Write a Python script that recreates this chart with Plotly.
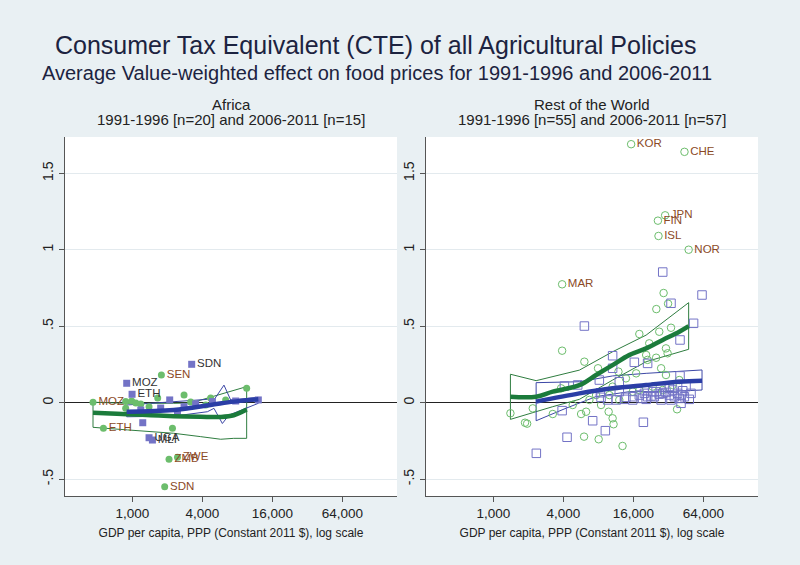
import plotly.graph_objects as go

# ---------------- Africa ----------------
af_91_gdp = [1775, 458, 563, 2440, 2065, 1895, 875, 875, 1390, 2780, 2210, 9610, 985, 1180, 1650, 3170, 4270, 6340, 1070, 4710]
af_91_cte = [0.181, 0.003, -0.167, -0.357, -0.370, -0.549, 0.007, -0.037, -0.026, 0.05, -0.167, 0.094, 0.011, -0.008, 0.031, 0.005, -0.015, 0.018, -0.002, 0.031]
af_91_lab = ["SEN", "MOZ", "ETH", "ZWE", "ZMB", "SDN", "", "", "", "", "", "", "", "", "", "", "", "", "", ""]

af_06_gdp = [3235, 893, 993, 2093, 4875, 12110, 2780, 2440, 1227, 1390, 1486, 1750, 3500, 7730, 1180]
af_06_cte = [0.251, 0.127, 0.055, 0.018, 0.007, 0.018, -0.026, -0.059, -0.131, -0.229, -0.244, -0.035, -0.008, 0.011, -0.048]
af_06_lab = ["SDN", "MOZ", "ETH", "", "", "", "", "", "", "UGA", "MLI", "", "", "", ""]

af_91_fit_x = [458, 650, 906, 1437, 2265, 3870, 5750, 7440, 9610]
af_91_fit_y = [-0.065, -0.071, -0.075, -0.082, -0.088, -0.092, -0.093, -0.082, -0.045]
af_91_up_x = [458, 906, 2265, 3170, 9610]
af_91_up_y = [0.003, -0.004, -0.004, -0.002, 0.105]
af_91_lo_x = [458, 906, 2265, 3870, 5750, 7440, 9610]
af_91_lo_y = [-0.161, -0.178, -0.200, -0.222, -0.239, -0.233, -0.233]

af_06_fit_x = [893, 2265, 4700, 7440, 12110]
af_06_fit_y = [-0.059, -0.048, -0.015, 0.007, 0.022]
af_06_up_x = [893, 2265, 4415, 5030, 6130, 7000, 12110]
af_06_up_y = [-0.015, 0.007, 0.022, 0.018, 0.115, 0.018, 0.035]
af_06_lo_x = [893, 2265, 4415, 5030, 5940, 6770, 12110]
af_06_lo_y = [-0.092, -0.088, -0.059, -0.037, -0.136, -0.081, -0.004]

# ---------------- Rest of the World ----------------
rw_91_gdp = [15300, 44000, 30000, 26000, 26300, 47800, 3900, 29100, 31800, 25200, 26700, 33700, 18000, 30500, 31500,
             25100, 20600, 21200, 13800, 30500, 11900, 7940, 6060, 3900, 3820, 2180, 1400, 1870, 1950, 3240,
             5680, 6270, 8430, 9800, 10600, 10800, 6020, 8040, 12900, 38000, 7640, 10600, 16900, 12100, 18000,
             23400, 34800, 39700, 15800, 28600, 9940, 6690, 4810, 21900, 27700]
rw_91_cte = [1.69, 1.64, 1.225, 1.19, 1.09, 1.00, 0.774, 0.717, 0.647, 0.612, 0.464, 0.49, 0.449, 0.355, 0.323,
             0.294, 0.312, 0.28, 0.159, 0.181, 0.203, 0.225, 0.268, 0.34, 0.094, -0.037, -0.069, -0.131, -0.137, -0.074,
             -0.074, -0.059, -0.015, -0.059, -0.102, -0.141, -0.222, -0.239, -0.283, -0.043, 0.05, 0.105, 0.192, 0.018, 0.083,
             0.105, 0.116, 0.148, 0.072, 0.083, 0.05, 0.018, -0.015, 0.388, 0.225]
rw_91_lab = ["KOR", "CHE", "JPN", "FIN", "ISL", "NOR", "MAR"] + [""] * 48

rw_06_gdp = [28600, 62300, 52700, 33700, 6060, 10600, 16300, 21200, 10600, 40300, 40300, 8150, 12100, 4080, 5310,
             3900, 7140, 9180, 19500, 4300, 2340, 8320, 9610, 13800, 15800, 18000, 19900, 21200, 22700, 24200,
             26700, 28600, 30500, 32600, 34800, 36000, 38400, 39700, 41100, 42500, 43900, 45400, 48400, 33700, 27700,
             20600, 15800, 13400, 41100, 11400, 8430, 12100, 25100, 32600, 23400, 19200, 50100]
rw_06_cte = [0.854, 0.704, 0.519, 0.65, 0.501, 0.307, 0.264, 0.257, 0.225, 0.41, 0.175, 0.148, 0.137, 0.109, 0.116,
             -0.052, -0.118, -0.183, -0.128, -0.226, -0.331, 0.065, 0.018, 0.035, 0.039, 0.05, 0.061, 0.039, 0.044, 0.039,
             0.056, 0.061, 0.067, 0.05, 0.083, 0.039, 0.061, 0.028, 0.05, 0.078, 0.039, 0.105, 0.022, 0.018, 0.018,
             0.022, 0.018, 0.022, -0.004, 0.018, 0.035, 0.072, 0.072, 0.094, 0.072, 0.028, 0.061]

rw_91_fit_x = [1400, 2330, 3240, 5490, 7640, 10600, 14700, 20600, 28600, 39700, 47800]
rw_91_fit_y = [0.039, 0.039, 0.072, 0.115, 0.181, 0.246, 0.311, 0.355, 0.41, 0.464, 0.501]
rw_91_up_x = [1400, 2330, 5490, 10600, 20600, 47800]
rw_91_up_y = [0.186, 0.144, 0.213, 0.333, 0.442, 0.654]
rw_91_lo_x = [1400, 2330, 3240, 5490, 10600, 20600, 47800]
rw_91_lo_y = [-0.109, -0.059, -0.026, 0.022, 0.148, 0.268, 0.349]

rw_06_fit_x = [2330, 5490, 10600, 20600, 39700, 62300]
rw_06_fit_y = [0.007, 0.061, 0.094, 0.116, 0.137, 0.144]
rw_06_up_x = [2330, 5490, 10600, 20600, 62300]
rw_06_up_y = [0.131, 0.137, 0.175, 0.192, 0.214]
rw_06_lo_x = [2330, 4220, 7640, 14700, 28600, 62300]
rw_06_lo_y = [-0.118, -0.036, 0.04, 0.072, 0.072, 0.083]

x_tickvals = [1000, 4000, 16000, 64000]
x_ticktext = ["1,000", "4,000", "16,000", "64,000"]
y_tickvals = [-0.5, 0, 0.5, 1, 1.5]
y_ticktext = ["-.5", "0", ".5", "1", "1.5"]

title = "Consumer Tax Equivalent (CTE) of all Agricultural Policies"
subtitle = "Average Value-weighted effect on food prices for 1991-1996 and 2006-2011"
panel_titles = ["Africa", "Rest of the World"]
panel_sub = ["1991-1996 [n=20] and 2006-2011 [n=15]", "1991-1996 [n=55] and 2006-2011 [n=57]"]
x_title = "GDP per capita, PPP (Constant 2011 $), log scale"

# ---------------- styles ----------------
FONT = "Liberation Sans, Arial, sans-serif"
BG = "#e9f0f3"
GREEN_M = "#6cbd6c"
BLUE_M = "#7373c6"
GREEN_L = "#1b7b3b"
BLUE_L = "#2b3ea6"
GREEN_CI = "#2f7d40"
BLUE_CI = "#3c47a6"
BROWN = "#8b4a26"
DARK = "#333333"

fig = go.Figure()

def band(xu, yu, xl, yl, color, xa, ya):
    xs = list(xu) + list(reversed(xl)) + [xu[0]]
    ys = list(yu) + list(reversed(yl)) + [yu[0]]
    fig.add_trace(go.Scatter(x=xs, y=ys, mode="lines", line=dict(color=color, width=1),
                             xaxis=xa, yaxis=ya, hoverinfo="skip", showlegend=False))

def fit(x, y, color, xa, ya):
    fig.add_trace(go.Scatter(x=x, y=y, mode="lines", line=dict(color=color, width=4.5, shape="spline"),
                             xaxis=xa, yaxis=ya, showlegend=False))

# Africa panel
band(af_91_up_x, af_91_up_y, af_91_lo_x, af_91_lo_y, GREEN_CI, "x", "y")
band(af_06_up_x, af_06_up_y, af_06_lo_x, af_06_lo_y, BLUE_CI, "x", "y")
fig.add_trace(go.Scatter(x=af_91_gdp, y=af_91_cte, text=af_91_lab, mode="markers+text",
                         textposition="middle right", textfont=dict(color=BROWN, size=11.5, family=FONT),
                         marker=dict(symbol="circle", size=7, color=GREEN_M), xaxis="x", yaxis="y", showlegend=False))
fig.add_trace(go.Scatter(x=af_06_gdp, y=af_06_cte, text=af_06_lab, mode="markers+text",
                         textposition="middle right", textfont=dict(color=DARK, size=11.5, family=FONT),
                         marker=dict(symbol="square", size=7, color=BLUE_M), xaxis="x", yaxis="y", showlegend=False))
fit(af_91_fit_x, af_91_fit_y, GREEN_L, "x", "y")
fit(af_06_fit_x, af_06_fit_y, BLUE_L, "x", "y")

# RoW panel
band(rw_91_up_x, rw_91_up_y, rw_91_lo_x, rw_91_lo_y, GREEN_CI, "x2", "y2")
band(rw_06_up_x, rw_06_up_y, rw_06_lo_x, rw_06_lo_y, BLUE_CI, "x2", "y2")
fig.add_trace(go.Scatter(x=rw_91_gdp, y=rw_91_cte, text=rw_91_lab, mode="markers+text",
                         textposition="middle right", textfont=dict(color=BROWN, size=11.5, family=FONT),
                         marker=dict(symbol="circle-open", size=7.5, color=GREEN_M, line=dict(width=1)),
                         xaxis="x2", yaxis="y2", showlegend=False))
fig.add_trace(go.Scatter(x=rw_06_gdp, y=rw_06_cte, mode="markers",
                         marker=dict(symbol="square-open", size=8.5, color=BLUE_M, line=dict(width=1)),
                         xaxis="x2", yaxis="y2", showlegend=False))
fit(rw_91_fit_x, rw_91_fit_y, GREEN_L, "x2", "y2")
fit(rw_06_fit_x, rw_06_fit_y, BLUE_L, "x2", "y2")

XR = [2.42, 5.276]
YR = [-0.61, 1.737]

xax = dict(type="log", range=XR, tickvals=x_tickvals, ticktext=x_ticktext, showgrid=False, zeroline=False,
           showline=True, linecolor="#555555", linewidth=1, ticks="outside", ticklen=5, tickcolor="#555555",
           tickfont=dict(family=FONT, size=13.5, color="#222222"), automargin=False,
           title=dict(text=x_title, font=dict(family=FONT, size=12, color="#222222"), standoff=8))
yax = dict(range=YR, tickvals=y_tickvals, ticktext=y_ticktext, showgrid=True, gridcolor="#e3eaee", gridwidth=1,
           zeroline=True, zerolinecolor="#222222", zerolinewidth=1,
           showline=True, linecolor="#555555", linewidth=1, ticks="outside", ticklen=5, tickcolor="#555555",
           tickangle=-90, tickfont=dict(family=FONT, size=14, color="#222222"), automargin=False)

H = 565.0
W = 800.0
ydom = [(H - 496) / H, (H - 137) / H]
fig.update_layout(
    width=800, height=565,
    paper_bgcolor=BG, plot_bgcolor="white",
    margin=dict(l=0, r=0, t=0, b=0),
    xaxis=dict(xax, domain=[65 / W, 397 / W], anchor="y"),
    yaxis=dict(yax, domain=ydom, anchor="x"),
    xaxis2=dict(xax, domain=[426 / W, 758 / W], anchor="y2"),
    yaxis2=dict(yax, domain=ydom, anchor="x2"),
    showlegend=False,
)

ann = [
    dict(text=title, x=375 / W, y=1 - 45 / H, font=dict(family=FONT, size=25, color="#1c2340")),
    dict(text=subtitle, x=377 / W, y=1 - 73 / H, font=dict(family=FONT, size=20, color="#1c2340")),
    dict(text=panel_titles[0], x=231 / W, y=1 - 104 / H, font=dict(family=FONT, size=15, color="#222222")),
    dict(text=panel_sub[0], x=231 / W, y=1 - 119 / H, font=dict(family=FONT, size=15, color="#222222")),
    dict(text=panel_titles[1], x=592 / W, y=1 - 104 / H, font=dict(family=FONT, size=15, color="#222222")),
    dict(text=panel_sub[1], x=592 / W, y=1 - 119 / H, font=dict(family=FONT, size=15, color="#222222")),
]
for a in ann:
    a.update(xref="paper", yref="paper", showarrow=False, xanchor="center", yanchor="middle")
fig.update_layout(annotations=ann)

fig.write_html("out.html", config={"displayModeBar": False},
               post_script="document.body.style.margin='0';document.body.style.background='%s';" % BG)
